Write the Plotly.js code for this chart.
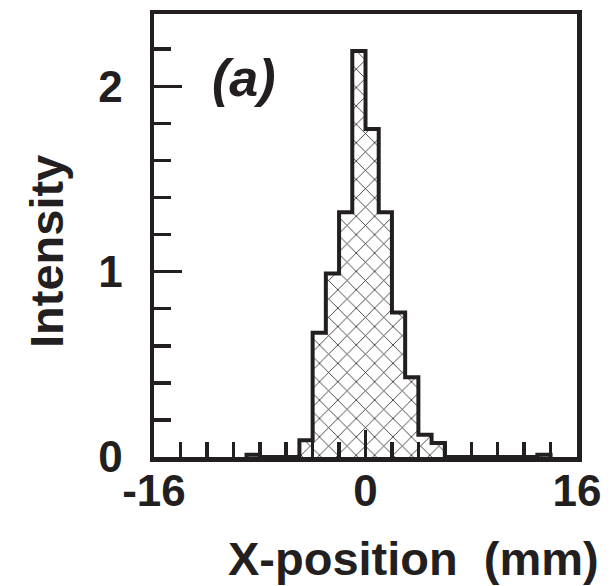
<!DOCTYPE html>
<html>
<head>
<meta charset="utf-8">
<script src="https://cdn.plot.ly/plotly-3.0.1.min.js"></script>
<style>
  html, body { margin: 0; padding: 0; background: #ffffff; }
  #chart { width: 611px; height: 586px; }
</style>
</head>
<body>
<div id="chart"></div>
<script>
// ---- data ----
const binWidth = 1; // mm
const binLeftEdges = [-9, -8, -7, -6, -5, -4, -3, -2, -1, 0, 1, 2, 3, 4, 5, 6, 7, 8, 9, 10, 11, 12, 13];
const intensities  = [0.012, 0, 0, 0, 0.09, 0.67, 0.99, 1.32, 2.19, 1.77, 1.32, 0.78, 0.43, 0.12, 0.075, 0, 0, 0, 0, 0, 0, 0, 0.012];
const xTickVals = [-16, 0, 16];
const xTickText = ['-16', '0', '16'];
const yTickVals = [0, 1, 2];
const yTickText = ['0', '1', '2'];
const xTitle = 'X-position\u00a0\u00a0(mm)';
const yTitle = 'Intensity';
const panelLabel = '(a)';

// ---- derived ----
const barCenters = binLeftEdges.map(e => e + binWidth / 2);
const stepX = [binLeftEdges[0]].concat(binLeftEdges, [binLeftEdges[binLeftEdges.length - 1] + binWidth]);
const stepY = [0].concat(intensities, [0]);

const ink = '#231f20';
const fontFam = '"Liberation Sans", Arial, Helvetica, sans-serif';

const traces = [
  {
    type: 'bar',
    x: barCenters,
    y: intensities,
    width: binWidth,
    marker: {
      color: 'rgba(0,0,0,0)',
      line: { width: 0 },
      pattern: { shape: 'x', fgcolor: ink, bgcolor: 'rgba(0,0,0,0)', size: 13, solidity: 0.12 }
    },
    hoverinfo: 'skip',
    showlegend: false
  },
  {
    type: 'scatter',
    mode: 'lines',
    x: stepX,
    y: stepY,
    line: { shape: 'hv', color: ink, width: 4 },
    hoverinfo: 'skip',
    showlegend: false
  }
];

const layout = {
  width: 611,
  height: 586,
  margin: { l: 154, r: 34, t: 14, b: 129 },
  paper_bgcolor: '#ffffff',
  plot_bgcolor: '#ffffff',
  showlegend: false,
  bargap: 0,
  font: { family: fontFam, color: ink },
  xaxis: {
    range: [-16, 16],
    showgrid: false,
    zeroline: false,
    showline: true,
    linewidth: 4.5,
    linecolor: ink,
    mirror: true,
    ticks: 'inside',
    ticklen: 27,
    tickwidth: 3.5,
    tickcolor: ink,
    tickmode: 'array',
    tickvals: xTickVals,
    ticktext: xTickText,
    tickfont: { family: fontFam, size: 44, color: ink, weight: 'bold' },
    ticklabelstandoff: -8,
    minor: { ticks: 'inside', dtick: 2, tick0: 0, ticklen: 15, tickwidth: 3.5, tickcolor: ink, showgrid: false },
    fixedrange: true
  },
  yaxis: {
    range: [0, 2.39],
    showgrid: false,
    zeroline: false,
    showline: true,
    linewidth: 4.5,
    linecolor: ink,
    mirror: true,
    ticks: 'inside',
    ticklen: 28,
    tickwidth: 3.5,
    tickcolor: ink,
    tickmode: 'array',
    tickvals: yTickVals,
    ticktext: yTickText,
    tickfont: { family: fontFam, size: 44, color: ink, weight: 'bold' },
    ticklabelstandoff: 18,
    minor: { ticks: 'inside', dtick: 0.2, tick0: 0, ticklen: 17, tickwidth: 3.5, tickcolor: ink, showgrid: false },
    fixedrange: true
  },
  annotations: [
    {
      text: panelLabel, xref: 'paper', yref: 'paper', x: 0.213, y: 0.855,
      xanchor: 'center', yanchor: 'middle', showarrow: false,
      font: { family: fontFam, size: 52, color: ink, weight: 'bold', style: 'italic' }
    },
    {
      text: xTitle, xref: 'paper', yref: 'paper', x: (413 - 154) / 423, y: -(558 - 457) / 443,
      xanchor: 'center', yanchor: 'middle', showarrow: false,
      font: { family: fontFam, size: 47, color: ink, weight: 'bold' }
    },
    {
      text: yTitle, xref: 'paper', yref: 'paper', x: -(154 - 46) / 423, y: (457 - 252) / 443,
      xanchor: 'center', yanchor: 'middle', showarrow: false, textangle: -90,
      font: { family: fontFam, size: 47, color: ink, weight: 'bold' }
    }
  ]
};

Plotly.newPlot('chart', traces, layout, { staticPlot: true, displayModeBar: false });
</script>
</body>
</html>
